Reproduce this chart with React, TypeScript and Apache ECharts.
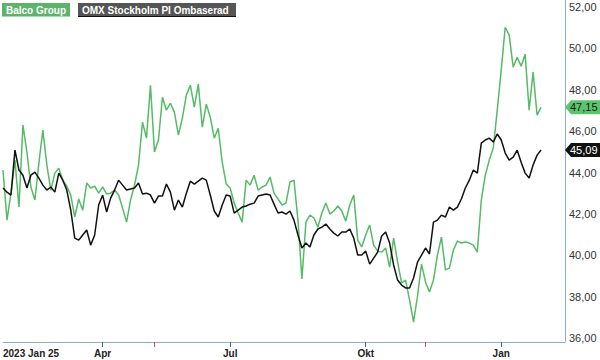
import React, { useEffect, useRef } from "react";
import * as echarts from "echarts";

const SERIES_NAMES = ["Balco Group", "OMX Stockholm PI Ombaserad"];
const CATEGORY_COUNT = 142;
const TICK_LABELS = ["2023 Jan 25", "Apr", "Jul", "Okt", "Jan"];
const TICK_INDEX = [0, 25, 57, 91, 125];
const EVENT_INDEX = [38, 106];
const Y_MIN = 36;
const Y_MAX = 52;
const Y_STEP = 2;

const BALCO = [
  44.12, 41.7, 43.0, 44.6, 42.33, 46.29, 44.99, 43.3, 42.67, 44.45,
  46.05, 44.36, 43.15, 43.97, 44.21, 43.63, 43.34, 42.91, 41.85, 42.72,
  42.18, 43.49, 43.25, 43.34, 43.0, 43.3, 42.96, 43.0, 43.15, 42.91,
  42.28, 41.6, 42.67, 43.39, 44.36, 46.43, 45.66, 48.22, 44.99, 45.57,
  47.64, 47.01, 47.35, 46.92, 45.81, 46.63, 47.74, 48.22, 47.16, 48.27,
  46.19, 47.3, 46.68, 45.66, 46.14, 44.5, 43.44, 43.25, 42.52, 42.04,
  41.6, 43.63, 43.39, 43.87, 43.15, 43.3, 43.39, 43.78, 43.0, 42.72,
  42.43, 42.52, 43.54, 43.63, 41.7, 38.85, 41.6, 41.94, 41.8, 41.36,
  42.04, 42.52, 41.99, 42.14, 42.38, 42.14, 41.65, 42.43, 42.91, 40.73,
  40.4, 40.98, 41.46, 40.49, 40.2, 40.15, 40.35, 39.43, 40.83, 39.67,
  38.66, 38.8, 37.84, 36.77, 38.03, 39.57, 38.71, 38.22, 38.8, 40.01,
  40.88, 39.29, 39.38, 40.25, 40.69, 40.59, 40.64, 40.59, 40.49, 40.15,
  42.67, 43.87, 44.6, 45.18, 47.01, 48.95, 51.02, 50.64, 49.09, 49.57,
  49.14, 49.72, 47.01, 48.85, 46.77, 47.15,
];

const OMX = [
  43.25, 43.05, 42.91, 45.08, 44.12, 43.87, 43.25, 43.87, 44.02, 43.73,
  43.39, 43.15, 43.3, 43.05, 43.97, 43.63, 43.15, 42.18, 40.83, 40.73,
  40.98, 41.22, 40.49, 40.98, 42.43, 42.91, 42.09, 42.76, 43.15, 43.63,
  43.39, 43.15, 43.2, 43.25, 43.49, 42.96, 43.0, 42.91, 42.52, 42.86,
  42.86, 43.44, 43.05, 42.18, 42.67, 42.33, 43.0, 43.58, 43.44, 43.58,
  43.73, 43.63, 42.91, 42.14, 41.85, 42.43, 42.91, 42.86, 42.04, 42.18,
  42.33, 42.38, 42.47, 42.52, 42.86, 42.91, 42.96, 42.91, 42.47, 42.04,
  42.09, 41.99, 42.14, 41.7, 40.98, 40.35, 40.59, 40.4, 40.98, 41.27,
  41.36, 41.51, 41.27, 41.07, 40.93, 41.12, 41.12, 41.27, 40.83, 40.01,
  40.01, 40.2, 39.57, 39.86, 40.15, 40.93, 41.12, 40.59, 39.53, 38.8,
  38.56, 38.42, 38.42, 38.9, 39.67, 40.01, 40.35, 40.06, 41.6, 41.7,
  41.94, 41.85, 42.33, 42.18, 42.33, 42.72, 43.25, 43.63, 44.12, 43.97,
  45.42, 45.57, 45.66, 45.47, 45.86, 45.57, 44.94, 44.6, 44.74, 45.08,
  44.5, 43.97, 43.73, 44.36, 44.84, 45.09,
];

const GREEN = "#55bb66";
const BLACK = "#111111";
const AXIS = "#8eadc6";
const FONT = "'Liberation Sans', Arial, Helvetica, sans-serif";

const fmt = (v: number) => v.toFixed(2).replace(".", ",");

export default function App() {
  const ref = useRef<HTMLDivElement>(null);

  useEffect(() => {
    if (!ref.current) return;
    const chart = echarts.init(ref.current, null, { renderer: "svg" });
    const categories = Array.from({ length: CATEGORY_COUNT }, (_, i) => String(i));

    chart.setOption({
      animation: false,
      backgroundColor: "#ffffff",
      grid: { left: 0, right: 35, top: 7, bottom: 22, containLabel: false },
      xAxis: [
        {
          type: "category",
          data: categories,
          boundaryGap: false,
          offset: 4,
          axisLine: { show: true, lineStyle: { color: AXIS, width: 1 } },
          axisTick: {
            show: true,
            length: 5,
            inside: false,
            interval: (i: number) => TICK_INDEX.indexOf(i) > 0,
            lineStyle: { color: "#2f6b95", width: 1 },
          },
          axisLabel: {
            show: true,
            interval: (i: number) => TICK_INDEX.indexOf(i) >= 0,
            formatter: (_v: string, i: number) => {
              const k = TICK_INDEX.indexOf(i);
              return k >= 0 ? TICK_LABELS[k] : "";
            },
            alignMinLabel: "left",
            margin: 6,
            color: "#222",
            fontSize: 10,
            fontWeight: "bold",
            fontFamily: FONT,
          },
          splitLine: { show: false },
        },
        {
          type: "category",
          data: categories,
          boundaryGap: false,
          position: "bottom",
          offset: 4,
          axisLine: { show: false },
          axisTick: {
            show: true,
            length: 5,
            interval: (i: number) => EVENT_INDEX.indexOf(i) >= 0,
            lineStyle: { color: "#ee4444", width: 1 },
          },
          axisLabel: { show: false },
          splitLine: { show: false },
        },
      ],
      yAxis: {
        type: "value",
        position: "right",
        min: Y_MIN,
        max: Y_MAX,
        interval: Y_STEP,
        axisLine: { show: false },
        axisTick: { show: false },
        splitLine: { show: false },
        axisLabel: {
          margin: 4,
          color: "#333",
          fontSize: 11,
          fontFamily: FONT,
          formatter: (v: number) => fmt(v),
        },
      },
      series: [
        {
          name: SERIES_NAMES[0],
          type: "line",
          data: BALCO,
          symbol: "none",
          lineStyle: { color: GREEN, width: 1.5 },
          z: 2,
        },
        {
          name: SERIES_NAMES[1],
          type: "line",
          data: OMX,
          symbol: "none",
          lineStyle: { color: BLACK, width: 1.5 },
          z: 3,
        },
      ],
    });

    const lastG = BALCO[BALCO.length - 1];
    const lastB = OMX[OMX.length - 1];
    const yG = chart.convertToPixel({ yAxisIndex: 0 }, lastG) as number;
    const yB = chart.convertToPixel({ yAxisIndex: 0 }, lastB) as number;
    const x0 = 565;

    const tag = (y: number, fill: string, textColor: string, label: string) => [
      {
        type: "polygon",
        shape: {
          points: [
            [x0, y],
            [x0 + 6, y - 7],
            [600, y - 7],
            [600, y + 7],
            [x0 + 6, y + 7],
          ],
        },
        style: { fill },
        z: 10,
      },
      {
        type: "text",
        x: 570,
        y: y,
        style: {
          text: label,
          fill: textColor,
          font: `11px ${FONT}`,
          verticalAlign: "middle",
        },
        z: 11,
      },
    ];

    chart.setOption({
      graphic: [
        {
          type: "line",
          shape: { x1: 565.5, y1: 0, x2: 565.5, y2: 342 },
          style: { stroke: AXIS, lineWidth: 1 },
          z: 5,
        },
        {
          type: "rect",
          shape: { x: 2, y: 3, width: 68, height: 14 },
          style: { fill: "#5cb46a" },
          z: 10,
        },
        {
          type: "line",
          shape: { x1: 2, y1: 16.5, x2: 70, y2: 16.5 },
          style: { stroke: "#9fdca8", lineWidth: 1 },
          z: 11,
        },
        {
          type: "text",
          x: 6,
          y: 10,
          style: {
            text: SERIES_NAMES[0],
            fill: "#ffffff",
            font: `bold 10px ${FONT}`,
            verticalAlign: "middle",
          },
          z: 12,
        },
        {
          type: "rect",
          shape: { x: 78, y: 3, width: 158, height: 14 },
          style: { fill: "#555555" },
          z: 10,
        },
        {
          type: "line",
          shape: { x1: 78, y1: 16.5, x2: 236, y2: 16.5 },
          style: { stroke: "#111111", lineWidth: 1 },
          z: 11,
        },
        {
          type: "text",
          x: 82,
          y: 10,
          style: {
            text: SERIES_NAMES[1],
            fill: "#ffffff",
            font: `bold 10px ${FONT}`,
            verticalAlign: "middle",
          },
          z: 12,
        },
        ...tag(yG, "#5cc46c", "#1a1a1a", fmt(lastG)),
        ...tag(yB, "#111111", "#ffffff", fmt(lastB)),
      ],
    });

    return () => chart.dispose();
  }, []);

  return (
    <div
      ref={ref}
      style={{ position: "absolute", left: 0, top: 0, width: 600, height: 360 }}
    />
  );
}
